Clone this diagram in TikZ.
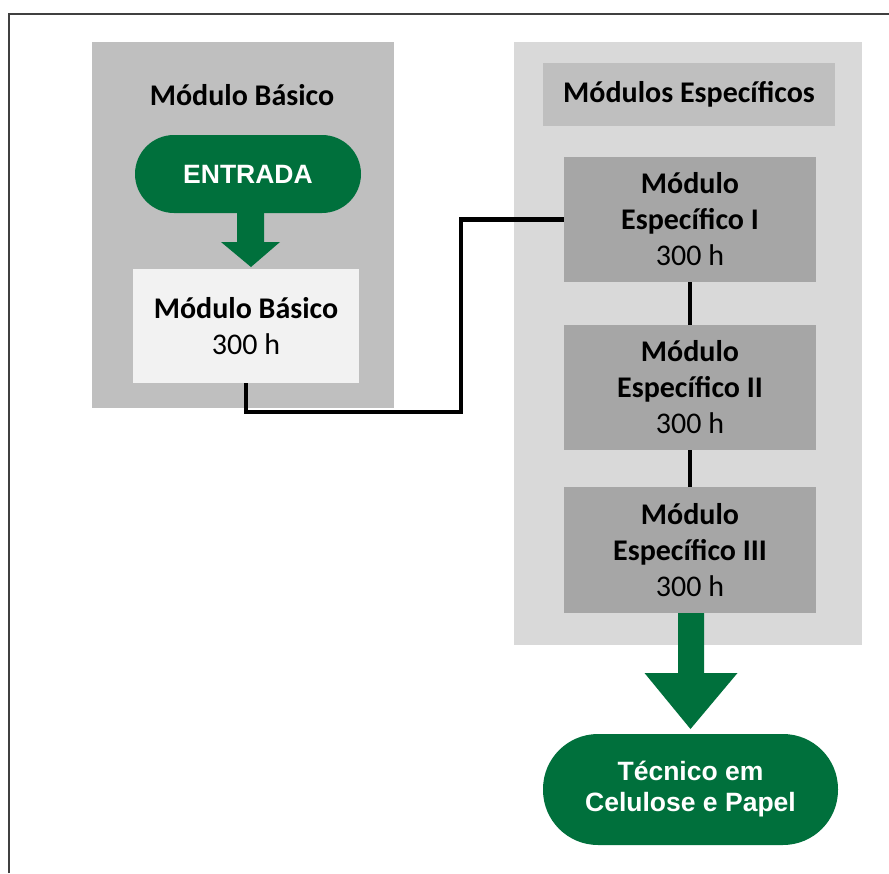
\documentclass[tikz,border=0pt]{standalone}
\usepackage{fontspec}
\usetikzlibrary{positioning,calc}
\newfontfamily\calibri{Carlito}
\newfontfamily\arialfont{Liberation Sans}
\definecolor{verde}{HTML}{00703C}
\definecolor{cinzaA}{HTML}{BFBFBF}
\definecolor{cinzaB}{HTML}{D9D9D9}
\definecolor{cinzaC}{HTML}{A6A6A6}
\definecolor{cinzaD}{HTML}{F2F2F2}
% block arrow: from, tip, shaft half width, head half width, head length
\newcommand\greenarrow[5]{\fill[verde] let \p1=(#1), \p2=(#2) in
  (\x1-#3,\y1) -- (\x1+#3,\y1) -- (\x1+#3,\y2+#5) -- (\x1+#4,\y2+#5) -- (\x2,\y2)
  -- (\x1-#4,\y2+#5) -- (\x1-#3,\y2+#5) -- cycle;}
\tikzset{
  area/.style={fill=#1, inner sep=0pt},
  modbox/.style={fill=#1, inner sep=0pt, align=center,
    font=\calibri\bfseries\fontsize{30}{36}\selectfont},
  pill/.style={fill=verde, text=white, inner sep=0pt, align=center,
    font=\arialfont\bfseries\fontsize{26.5}{31}\selectfont},
  link/.style={line width=4.2pt, black},
  linkshadow/.style={line width=4.2pt, black!22, shift={(1.5,1.5)}},
}
\begin{document}
\begin{tikzpicture}[x=1pt,y=-1pt]
  \useasboundingbox (0,0) rectangle (889,873);

  %%%%% frame %%%%%
  \draw[line width=1.5pt, black!75] (9,873) -- (9,14) -- (889,14);

  %%%%% areas %%%%%
  \node[area=cinzaA, minimum width=302pt, minimum height=366pt] (basico) at (243,225) {};
  \node[area=cinzaB, minimum width=348pt, minimum height=603pt] (especificos) at (688,343.5) {};
  \node[modbox=cinzaA, minimum width=292pt, minimum height=63pt] (titesp) at (689,94.5) {Módulos Específicos};
  \node[modbox=none, fill opacity=0, text opacity=1] (titbas) at (242,95) {Módulo Básico};

  %%%%% modules %%%%%
  \node[pill, minimum width=226pt, minimum height=78pt, rounded corners=39pt] (entrada) at (248,174) {ENTRADA};
  \node[modbox=cinzaD, minimum width=226pt, minimum height=114pt] (mb) at (246,326) {Módulo Básico\\{\mdseries 300 h}};
  \node[modbox=cinzaC, minimum width=252pt, minimum height=125pt] (me1) at (690,219.5) {Módulo\\Específico I\\{\mdseries 300 h}};
  \node[modbox=cinzaC, minimum width=252pt, minimum height=125pt] (me2) at (690,387.5) {Módulo\\Específico II\\{\mdseries 300 h}};
  \node[modbox=cinzaC, minimum width=252pt, minimum height=126pt] (me3) at (690,550) {Módulo\\Específico III\\{\mdseries 300 h}};
  \node[pill, minimum width=295pt, minimum height=111pt, rounded corners=55pt] (tecnico) at (690.5,789.5) {Técnico em\\Celulose e Papel};

  %%%%% connectors %%%%%
  \coordinate (dobra) at (461,412);
  \draw[linkshadow] (mb.south) |- (dobra) |- (me1.west);
  \draw[link] (mb.south) |- (dobra) |- (me1.west);
  \draw[link] (me1.south) -- (me2.north);
  \draw[link] (me2.south) -- (me3.north);

  %%%%% arrows %%%%%
  \coordinate (ponta1) at (251,267);
  \coordinate (base1) at (250.5,212);
  \coordinate (ponta2) at (690.5,729);
  \coordinate (base2) at (691,613);
  \greenarrow{base1}{ponta1}{13.5pt}{29.5pt}{25pt}
  \greenarrow{base2}{ponta2}{13pt}{46.5pt}{56pt}
\end{tikzpicture}
\end{document}
